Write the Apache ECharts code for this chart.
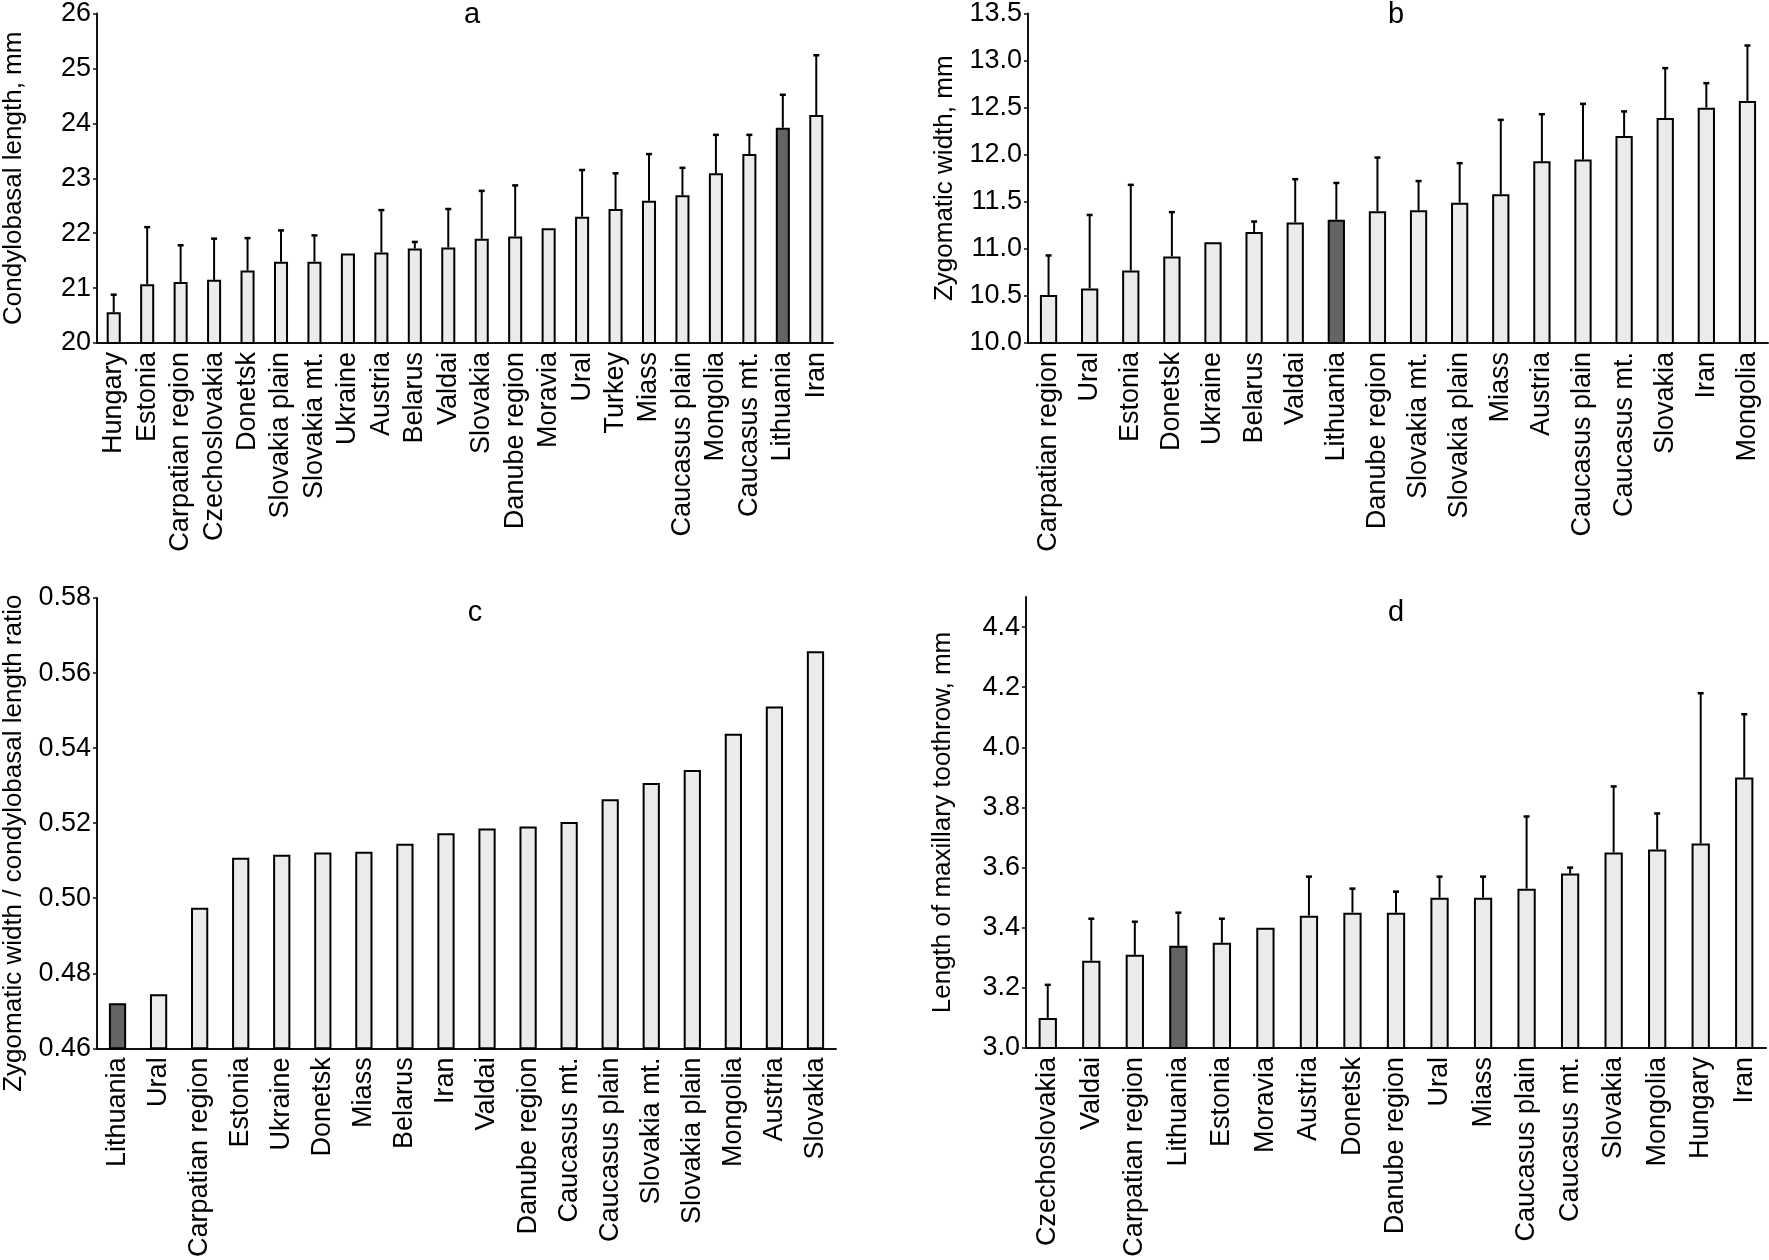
<!DOCTYPE html>
<html>
<head>
<meta charset="utf-8">
<script src="https://cdn.jsdelivr.net/npm/echarts@6/dist/echarts.min.js"></script>
<style>
  html, body { margin: 0; padding: 0; background: #fff; }
  #main { width: 1769px; height: 1260px; }
</style>
</head>
<body>
<div id="main"></div>
<script>
// a - condylobasal length
const catsA = ["Hungary", "Estonia", "Carpatian region", "Czechoslovakia", "Donetsk", "Slovakia plain",
  "Slovakia mt.", "Ukraine", "Austria", "Belarus", "Valdai", "Slovakia", "Danube region", "Moravia",
  "Ural", "Turkey", "Miass", "Caucasus plain", "Mongolia", "Caucasus mt.", "Lithuania", "Iran"];
const meanA = [20.56, 21.07, 21.11, 21.15, 21.32, 21.48, 21.48, 21.63, 21.65, 21.72, 21.74, 21.90,
  21.94, 22.09, 22.30, 22.44, 22.59, 22.69, 23.09, 23.44, 23.92, 24.15];
const errA = [20.88, 22.11, 21.78, 21.90, 21.91, 22.05, 21.96, null, 22.42, 21.84, 22.44, 22.77,
  22.87, null, 23.15, 23.09, 23.44, 23.19, 23.79, 23.79, 24.52, 25.24];

// b - zygomatic width
const catsB = ["Carpatian region", "Ural", "Estonia", "Donetsk", "Ukraine", "Belarus", "Valdai",
  "Lithuania", "Danube region", "Slovakia mt.", "Slovakia plain", "Miass", "Austria",
  "Caucasus plain", "Caucasus mt.", "Slovakia", "Iran", "Mongolia"];
const meanB = [10.51, 10.58, 10.77, 10.92, 11.07, 11.18, 11.28, 11.31, 11.40, 11.41, 11.49, 11.58,
  11.93, 11.95, 12.20, 12.39, 12.50, 12.57];
const errB = [10.93, 11.36, 11.68, 11.39, null, 11.29, 11.74, 11.70, 11.97, 11.72, 11.91, 12.37,
  12.43, 12.54, 12.46, 12.92, 12.76, 13.16];

// c - ratio
const catsC = ["Lithuania", "Ural", "Carpatian region", "Estonia", "Ukraine", "Donetsk", "Miass",
  "Belarus", "Iran", "Valdai", "Danube region", "Caucasus mt.", "Caucasus plain", "Slovakia mt.",
  "Slovakia plain", "Mongolia", "Austria", "Slovakia"];
const meanC = [0.4720, 0.4744, 0.4975, 0.5108, 0.5116, 0.5122, 0.5124, 0.5145, 0.5173, 0.5186,
  0.5191, 0.5203, 0.5264, 0.5307, 0.5342, 0.5438, 0.5511, 0.5658];

// d - maxillary toothrow
const catsD = ["Czechoslovakia", "Valdai", "Carpatian region", "Lithuania", "Estonia", "Moravia",
  "Austria", "Donetsk", "Danube region", "Ural", "Miass", "Caucasus plain", "Caucasus mt.",
  "Slovakia", "Mongolia", "Hungary", "Iran"];
const meanD = [3.10, 3.29, 3.31, 3.34, 3.35, 3.40, 3.44, 3.45, 3.45, 3.50, 3.50, 3.53, 3.58, 3.65,
  3.66, 3.68, 3.90];
const errD = [3.21, 3.43, 3.42, 3.45, 3.43, null, 3.57, 3.53, 3.52, 3.57, 3.57, 3.77, 3.60, 3.87,
  3.78, 4.18, 4.11];
const ticksD = [3.0, 3.2, 3.4, 3.6, 3.8, 4.0, 4.2, 4.4];

const highlight = "Lithuania";
const FONT = "Liberation Sans, Arial, sans-serif";

const chart = echarts.init(document.getElementById("main"));

const grids = [
  { left: 96, top: 10, width: 737, height: 333 },
  { left: 1028, top: 10, width: 740, height: 333 },
  { left: 97, top: 598, width: 739, height: 451 },
  { left: 1026, top: 597, width: 740, height: 451 },
];

const makeX = (cats, idx) => ({
  type: "category",
  gridIndex: idx,
  data: cats,
  axisLine: { lineStyle: { color: "#111", width: 2 } },
  axisTick: { interval: 0, length: 6, lineStyle: { color: "#111", width: 1.5 } },
  axisLabel: { interval: 0, rotate: 90, margin: 9, fontSize: 27, color: "#000", fontFamily: FONT },
});

const makeY = (idx, name, min, max, interval, digits, extra) => Object.assign({
  type: "value",
  gridIndex: idx,
  name,
  nameLocation: "middle",
  nameGap: 70,
  nameTextStyle: { fontSize: 26, color: "#000", fontFamily: FONT },
  min, max, interval,
  splitLine: { show: false },
  axisLine: { show: true, lineStyle: { color: "#111", width: 2 } },
  axisTick: { show: true, length: 4, lineStyle: { color: "#111", width: 1.5 } },
  axisLabel: { fontSize: 27, color: "#000", margin: 6, fontFamily: FONT,
    formatter: (v) => v.toFixed(digits) },
}, extra || {});

const barSeries = (cats, vals, idx) => ({
  type: "bar",
  xAxisIndex: idx,
  yAxisIndex: idx,
  barWidth: "42%",
  animation: false,
  data: vals.map((v, i) => ({
    value: v,
    itemStyle: { color: cats[i] === highlight ? "#646464" : "#ebebeb" },
  })),
  itemStyle: { borderColor: "#000", borderWidth: 2 },
});

const errRender = (params, api) => {
  const p0 = api.coord([api.value(0), api.value(1)]);
  const p1 = api.coord([api.value(0), api.value(2)]);
  const cap = 3;
  return {
    type: "group",
    children: [
      { type: "line", shape: { x1: p0[0], y1: p0[1], x2: p1[0], y2: p1[1] },
        style: { stroke: "#000", lineWidth: 2 } },
      { type: "line", shape: { x1: p1[0] - cap, y1: p1[1], x2: p1[0] + cap, y2: p1[1] },
        style: { stroke: "#000", lineWidth: 2.5 } },
    ],
  };
};

const errSeries = (vals, errs, idx) => ({
  type: "custom",
  xAxisIndex: idx,
  yAxisIndex: idx,
  animation: false,
  z: 3,
  renderItem: errRender,
  data: errs.map((e, i) => [i, vals[i], e]).filter((d) => d[2] != null),
});

const titleText = (x, y, t) => ({
  type: "text", x, y,
  style: { text: t, fontSize: 29, fill: "#000", fontFamily: FONT, textAlign: "center", textVerticalAlign: "middle" },
});

chart.setOption({
  animation: false,
  grid: grids,
  xAxis: [makeX(catsA, 0), makeX(catsB, 1), makeX(catsC, 2), makeX(catsD, 3)],
  yAxis: [
    makeY(0, "Condylobasal length, mm", 20, 26, 1, 0),
    makeY(1, "Zygomatic width, mm", 10, 13.5, 0.5, 1),
    makeY(2, "Zygomatic width / condylobasal length ratio", 0.46, 0.58, 0.02, 2,
      { nameTextStyle: { fontSize: 26, color: "#000", fontFamily: FONT, padding: [0, 40, 0, 0] } }),
    makeY(3, "Length of maxillary toothrow, mm", 3.0, 4.5, 0.2, 1, {
      axisTick: { show: true, length: 4, customValues: ticksD, lineStyle: { color: "#111", width: 1.5 } },
    }),
  ],
  series: [
    barSeries(catsA, meanA, 0),
    errSeries(meanA, errA, 0),
    barSeries(catsB, meanB, 1),
    errSeries(meanB, errB, 1),
    barSeries(catsC, meanC, 2),
    barSeries(catsD, meanD, 3),
    errSeries(meanD, errD, 3),
  ],
  graphic: [
    titleText(472, 15, "a"),
    titleText(1396, 15, "b"),
    titleText(475, 613, "c"),
    titleText(1396, 613, "d"),
  ],
});

// d: labels only at the tick values, no label at the 4.5 top
chart.setOption({
  yAxis: [{}, {}, {}, {
    axisLabel: { customValues: ticksD },
  }],
});
</script>
</body>
</html>
